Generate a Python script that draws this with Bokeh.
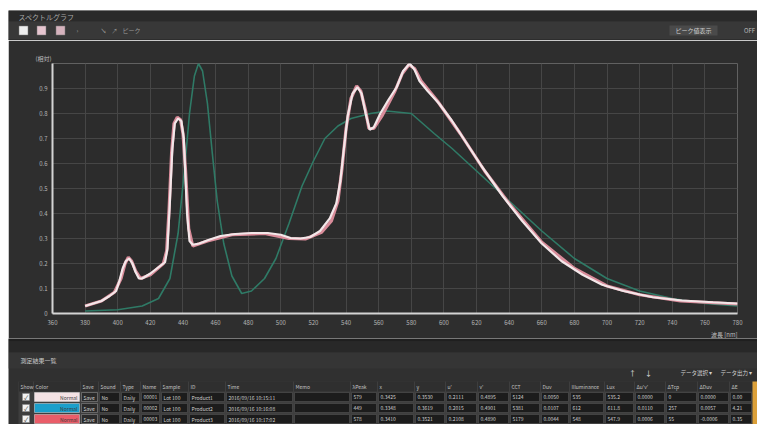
from bokeh.plotting import figure
from bokeh.layouts import column, row
from bokeh.models import ColumnDataSource, Range1d, FixedTicker, Title, Spacer
from bokeh.core.properties import value
from bokeh.embed import file_html
from bokeh.resources import INLINE

FONT = "Noto Sans CJK JP"

# ---------------- spectral data ----------------
white_nm = [380, 385, 390, 395, 399, 401, 403, 405, 407, 409, 411, 413, 415, 420, 425, 429,
            430.5, 432, 433.5, 435, 437, 439, 440.5, 441.5, 442.5, 444, 446, 450, 456, 463,
            472, 482, 492, 500, 506, 512, 518, 524, 530, 534, 536.5, 538.5, 541, 544, 547,
            549.5, 552, 554.5, 557, 561, 566, 571, 575, 579, 582, 585, 590, 597, 605, 612,
            623, 636, 648, 660, 672, 685, 697, 710, 728, 746, 765, 780]
white_val = [0.03, 0.04, 0.05, 0.07, 0.09, 0.13, 0.18, 0.21, 0.22, 0.20, 0.165, 0.14, 0.14,
             0.16, 0.185, 0.205, 0.26, 0.45, 0.66, 0.76, 0.78, 0.77, 0.70, 0.55, 0.40, 0.29,
             0.275, 0.28, 0.295, 0.31, 0.318, 0.322, 0.322, 0.315, 0.302, 0.30, 0.306, 0.33,
             0.38, 0.44, 0.53, 0.65, 0.79, 0.88, 0.905, 0.88, 0.80, 0.735, 0.745, 0.80, 0.855,
             0.905, 0.97, 1.0, 0.975, 0.93, 0.89, 0.84, 0.77, 0.70, 0.59, 0.47, 0.37, 0.28,
             0.21, 0.155, 0.115, 0.09, 0.065, 0.052, 0.045, 0.04]

red_nm = [380, 390, 398, 402, 404.5, 406.5, 408.5, 411, 414, 420, 428, 430, 431.5, 433,
          434.5, 436.5, 438.5, 440, 441.5, 443.5, 446, 455, 470, 490, 505, 515, 525, 531,
          535, 537.5, 540, 543, 546.5, 549, 552, 554, 557, 562, 570, 574.5, 578.5, 582, 586,
          596, 610, 625, 640, 660, 680, 700, 720, 745, 780]
red_val = [0.03, 0.05, 0.085, 0.14, 0.2, 0.225, 0.21, 0.17, 0.14, 0.155, 0.2, 0.25, 0.42,
           0.64, 0.76, 0.785, 0.775, 0.72, 0.58, 0.34, 0.27, 0.29, 0.315, 0.32, 0.3, 0.298,
           0.325, 0.37, 0.45, 0.58, 0.74, 0.86, 0.91, 0.89, 0.81, 0.74, 0.74, 0.79, 0.89,
           0.96, 0.995, 0.98, 0.93, 0.85, 0.72, 0.57, 0.44, 0.285, 0.18, 0.11, 0.075, 0.05,
           0.038]

blue_nm = [380, 400, 415, 425, 432, 437, 441, 444, 447, 449.5, 452, 455, 458, 461, 465, 470,
           476, 482, 490, 497, 505, 513, 520, 527, 535, 543, 555, 565, 580, 594, 605, 620,
           640, 660, 680, 700, 720, 740, 760, 780]
blue_val = [0.01, 0.015, 0.03, 0.06, 0.14, 0.32, 0.58, 0.80, 0.95, 1.0, 0.97, 0.84, 0.64,
            0.45, 0.28, 0.15, 0.08, 0.09, 0.14, 0.22, 0.36, 0.51, 0.61, 0.70, 0.75, 0.78,
            0.80, 0.81, 0.80, 0.72, 0.66, 0.57, 0.45, 0.33, 0.22, 0.14, 0.09, 0.06, 0.04, 0.03]

x_ticks = [360, 380, 400, 420, 440, 460, 480, 500, 520, 540, 560, 580, 600, 620, 640, 660,
           680, 700, 720, 740, 760, 780]
y_ticks = [0, 0.1, 0.2, 0.3, 0.4, 0.5, 0.6, 0.7, 0.8, 0.9, 1.0]
y_tick_labels = {0: "0", 0.1: "0.1", 0.2: "0.2", 0.3: "0.3", 0.4: "0.4", 0.5: "0.5",
                 0.6: "0.6", 0.7: "0.7", 0.8: "0.8", 0.9: "0.9", 1.0: ""}
y_title = "(相対)"
x_title = "波長 [nm]"

# ---------------- UI texts ----------------
window_title = "スペクトルグラフ"
toolbar_left = ["›", "↘", "↗", "ピーク"]
toolbar_right = ["ピーク値表示", "OFF"]
list_title = "測定結果一覧"
list_buttons = ["↑", "↓", "データ選択 ▾", "データ出力 ▾"]

# ---------------- table data ----------------
series_colors = ["#f4e2e4", "#1c9fcb", "#ea5d69"]
line_colors = ["#f3e7e9", "#2f7a66", "#d98c9a"]
table_headers = ["Show", "Color", "Save", "Sound", "Type", "Name", "Sample", "ID", "Time",
                 "Memo", "λPeak", "x", "y", "u'", "v'", "CCT", "Duv", "Illuminance", "Lux",
                 "Δu'v'", "ΔTcp", "ΔDuv", "ΔE"]
col_edges = [10, 25, 72, 90, 112, 132, 152, 180, 217, 285, 342, 369, 406, 437, 469, 501,
             532, 561, 596, 626, 657, 689, 721, 744]
row_status = ["Normal", "Normal", "Normal"]
row_save = ["Save", "Save", "Save"]
row_sound = ["No", "No", "No"]
row_type = ["Daily", "Daily", "Daily"]
row_name = ["00001", "00002", "00003"]
row_sample = ["Lot 100", "Lot 100", "Lot 100"]
row_id = ["Product1", "Product2", "Product3"]
row_time = ["2016/09/16 10:15:11", "2016/09/16 10:16:08", "2016/09/16 10:17:02"]
row_memo = ["", "", ""]
row_peak = ["579", "449", "578"]
row_x = ["0.3425", "0.3348", "0.3410"]
row_y = ["0.3530", "0.3619", "0.3521"]
row_u = ["0.2111", "0.2015", "0.2108"]
row_v = ["0.4895", "0.4901", "0.4890"]
row_cct = ["5124", "5381", "5179"]
row_duv = ["0.0050", "0.0107", "0.0044"]
row_illum = ["535", "612", "548"]
row_lux = ["535.2", "611.8", "547.9"]
row_duv2 = ["0.0000", "0.0110", "0.0006"]
row_dtcp = ["0", "257", "55"]
row_dduv = ["0.0000", "0.0057", "-0.0006"]
row_de = ["0.00", "4.21", "0.35"]

BG = "#303030"
W = 749


def bare(fig):
    fig.axis.visible = False
    fig.xgrid.visible = False
    fig.ygrid.visible = False
    fig.outline_line_color = None
    fig.background_fill_color = BG
    fig.border_fill_color = BG


def texts(fig, xs, ys, ts, size, color, align="left"):
    src = ColumnDataSource(dict(x=xs, y=ys, t=ts))
    fig.text(x="x", y="y", text="t", source=src, text_font=value(FONT),
             text_font_size=value(size), text_color=color, text_align=align,
             text_baseline="middle")


def flat_fig(height):
    f = figure(width=W, height=height, x_range=Range1d(0, W), y_range=Range1d(height, 0),
               output_backend="svg", toolbar_location=None, min_border=0,
               min_border_left=0, min_border_right=0, min_border_top=0,
               min_border_bottom=0, frame_align=False)
    bare(f)
    return f


# ================= header =================
HH = 30
h = flat_fig(HH)
h.quad(left=[0, 0], right=[W, W], top=[0, 11], bottom=[11, HH],
       fill_color=["#2a2a2a", "#383838"], line_color=None)
h.quad(left=[0], right=[W], top=[HH - 1], bottom=[HH], fill_color="#222222", line_color=None)
texts(h, [10], [6], [window_title], "7px", "#a8a8a8")
btn_x = [15, 33, 52]
btn_cols = ["#eeeeee", "#e6c5cf", "#d5b2bd"]
h.rect(x=btn_x, y=[20, 20, 20], width=9, height=9, fill_color=btn_cols,
       line_color="#777777", line_width=0.5)
texts(h, [68, 92, 103, 114], [20, 20, 20, 20], toolbar_left, "6px", "#9a9a9a")
h.quad(left=[661], right=[709], top=[15], bottom=[25], fill_color="#4a4a4a", line_color=None)
texts(h, [685], [20], [toolbar_right[0]], "6px", "#cfcfcf", "center")
texts(h, [741], [20], [toolbar_right[1]], "6px", "#bdbdbd", "center")

# ================= chart =================
p = figure(width=W, height=298, x_range=Range1d(360, 780), y_range=Range1d(0, 1.0),
           output_backend="svg", toolbar_location=None, frame_align=False, title=y_title,
           min_border_left=44, min_border_right=20, min_border_top=23, min_border_bottom=24)
p.background_fill_color = "#2c2c2c"
p.border_fill_color = "#2e2e2e"
p.outline_line_color = None
p.title.align = "left"
p.title.offset = -17
p.title.standoff = 2
p.title.text_font = FONT
p.title.text_font_size = "6px"
p.title.text_font_style = "normal"
p.title.text_color = "#bdbdbd"
p.add_layout(Title(text=x_title, align="right", text_font=FONT, text_font_size="6px",
                   text_font_style="normal", text_color="#bdbdbd", standoff=0), "below")

p.xaxis.ticker = FixedTicker(ticks=x_ticks)
p.yaxis.ticker = FixedTicker(ticks=y_ticks)
p.yaxis.major_label_overrides = y_tick_labels
for ax in (p.xaxis[0], p.yaxis[0]):
    ax.axis_line_color = "#d4d4d4"
    ax.axis_line_width = 2
    ax.major_tick_line_color = None
    ax.minor_tick_line_color = None
    ax.major_tick_out = 0
    ax.major_tick_in = 0
    ax.minor_tick_out = 0
    ax.minor_tick_in = 0
    ax.major_label_text_font = FONT
    ax.major_label_text_font_size = "6px"
    ax.major_label_text_color = "#b5b5b5"
p.xaxis[0].major_label_standoff = 6
p.yaxis[0].major_label_standoff = 5
p.xgrid.ticker = FixedTicker(ticks=x_ticks)
p.ygrid.ticker = FixedTicker(ticks=y_ticks)
p.grid.grid_line_color = "#464646"
p.grid.grid_line_width = 1

p.line(blue_nm, blue_val, line_color=line_colors[1], line_width=1.6)
p.line(red_nm, red_val, line_color=line_colors[2], line_width=3.2)
p.line(white_nm, white_val, line_color=line_colors[0], line_width=2.2)

# ================= table =================
TH = 86
t = flat_fig(TH)
t.quad(left=[0, 0, 0], right=[W, W, W], top=[0, 3, 14], bottom=[3, 14, 30],
       fill_color=["#1f1f1f", "#282828", "#353535"], line_color=None)
texts(t, [12], [22], [list_title], "6px", "#c8c8c8")
texts(t, [624, 640], [34, 34], list_buttons[:2], "7px", "#e0e0e0", "center")
texts(t, [672, 712], [34, 34], list_buttons[2:], "5.5px", "#d0d0d0")

head_top, head_bot = 43, 53
row_tops = [53, 64, 75]
row_h = 11
t.quad(left=[col_edges[0]], right=[col_edges[-1]], top=[head_top], bottom=[TH],
       fill_color="#3e3e3e", line_color=None)
hl, hr = col_edges[:-1], col_edges[1:]
t.quad(left=[a + 0.5 for a in hl], right=[b - 0.5 for b in hr], top=[head_top] * len(hl),
       bottom=[head_bot] * len(hl), fill_color="#2f2f2f", line_color=None)
texts(t, [a + 2 for a in hl], [(head_top + head_bot) / 2] * len(hl), table_headers,
      "5px", "#c4c4c4")

columns_data = [row_sound, row_type, row_name, row_sample, row_id, row_time, row_memo,
                row_peak, row_x, row_y, row_u, row_v, row_cct, row_duv, row_illum, row_lux,
                row_duv2, row_dtcp, row_dduv, row_de]
for r in range(3):
    top = row_tops[r]
    bot = top + row_h
    ym = top + row_h / 2
    cl = col_edges[3:-1]
    cr = col_edges[4:]
    t.quad(left=[a + 1 for a in cl], right=[b - 1 for b in cr], top=[top + 1] * len(cl),
           bottom=[bot - 1] * len(cl), fill_color="#1c1c1c", line_color="#5a5a5a",
           line_width=0.5)
    texts(t, [a + 3 for a in cl], [ym] * len(cl), [c[r] for c in columns_data],
          "5px", "#cfcfcf")
    cx = (col_edges[0] + col_edges[1]) / 2
    t.rect(x=[cx], y=[ym], width=7, height=7, fill_color="#f2f2f2", line_color="#888888",
           line_width=0.5)
    texts(t, [cx], [ym], ["✓"], "6px", "#333333", "center")
    t.quad(left=[col_edges[1] + 1], right=[col_edges[2] - 1], top=[top + 1],
           bottom=[bot - 1], fill_color=series_colors[r], line_color="#dddddd",
           line_width=0.5)
    texts(t, [col_edges[2] - 3], [ym], [row_status[r]], "5px", "#3a3a3a", "right")
    t.quad(left=[col_edges[2] + 1], right=[col_edges[3] - 1], top=[top + 1],
           bottom=[bot - 1], fill_color="#2a2a2a", line_color="#9a9a9a", line_width=0.5)
    texts(t, [col_edges[2] + 3], [ym], [row_save[r]], "5px", "#d8d8d8")

t.quad(left=[744], right=[W], top=[head_top], bottom=[TH], fill_color="#dba03a",
       line_color=None)

layout = column(Spacer(width=757, height=10),
                row(Spacer(width=8, height=414), column(h, p, t, spacing=0), spacing=0),
                spacing=0)
open("out.html", "w").write(file_html(layout, INLINE))
